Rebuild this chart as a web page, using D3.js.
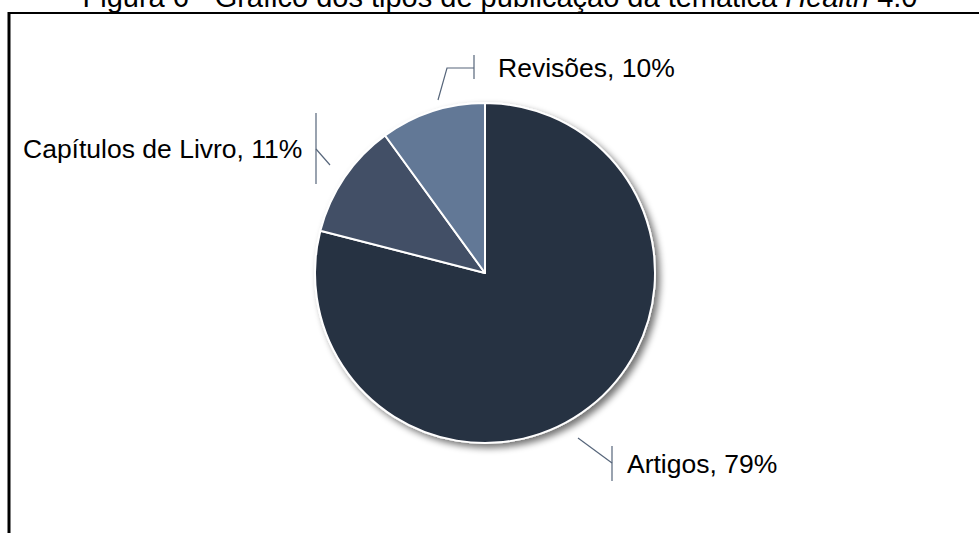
<!DOCTYPE html>
<html>
<head>
<meta charset="utf-8">
<script src="https://cdn.jsdelivr.net/npm/d3@7"></script>
<style>
  html, body { margin: 0; padding: 0; background: #fff; }
  svg { display: block; }
</style>
</head>
<body>
<svg id="chart" width="979" height="533"></svg>
<script>
// Publication types and their share (%)
const categories = ["Artigos", "Capítulos de Livro", "Revisões"];
const shares = [79, 11, 10];
const sliceColors = ["#273142", "#435066", "#627896"];

const titleParts = ["Figura 6 - Gráfico dos tipos de publicação da temática ", "Health", " 4.0"];

const W = 979, H = 533;
const cx = 485, cy = 273, R = 170;
const font = "'Liberation Sans', Arial, sans-serif";

const svg = d3.select("#chart");

// soft drop shadow under the pie
const defs = svg.append("defs");
const f = defs.append("filter").attr("id", "shadow")
  .attr("x", "-20%").attr("y", "-20%").attr("width", "140%").attr("height", "140%");
f.append("feGaussianBlur").attr("in", "SourceAlpha").attr("stdDeviation", 3.5).attr("result", "b");
f.append("feOffset").attr("in", "b").attr("dx", 4).attr("dy", 4).attr("result", "o");
f.append("feComponentTransfer").attr("in", "o").attr("result", "s")
  .append("feFuncA").attr("type", "linear").attr("slope", 0.55);
const m = f.append("feMerge");
m.append("feMergeNode").attr("in", "s");
m.append("feMergeNode").attr("in", "SourceGraphic");

// title (partly above the frame)
const title = svg.append("text")
  .attr("x", 500).attr("y", 7)
  .attr("text-anchor", "middle")
  .attr("font-family", font).attr("font-size", 29)
  .attr("fill", "#000");
titleParts.forEach((t, i) => {
  title.append("tspan").text(t).attr("font-style", i === 1 ? "italic" : "normal");
});

// frame lines
svg.append("line").attr("x1", 8).attr("x2", W).attr("y1", 13).attr("y2", 13)
  .attr("stroke", "#000").attr("stroke-width", 2);
svg.append("line").attr("x1", 9).attr("x2", 9).attr("y1", 12).attr("y2", H)
  .attr("stroke", "#000").attr("stroke-width", 3);

// pie
const pie = d3.pie().sort(null).value(d => d)(shares);
const arc = d3.arc().innerRadius(0).outerRadius(R);

const g = svg.append("g").attr("transform", `translate(${cx},${cy})`);
g.append("g").attr("filter", "url(#shadow)")
  .selectAll("path").data(pie).join("path")
  .attr("d", arc)
  .attr("fill", (d, i) => sliceColors[i])
  .attr("stroke", "#fff")
  .attr("stroke-width", 2)
  .attr("stroke-linejoin", "round");

// data labels with leader lines
const labels = [
  { text: `${categories[0]}, ${shares[0]}%`, x: 627, y: 473 },
  { text: `${categories[1]}, ${shares[1]}%`, x: 23, y: 158 },
  { text: `${categories[2]}, ${shares[2]}%`, x: 498, y: 77 }
];

const leaders = [
  // Artigos
  [[[578, 438], [612, 463]], [[612, 446], [612, 481]]],
  // Capítulos de Livro
  [[[330, 165], [316, 149]], [[316, 113], [316, 184]]],
  // Revisões
  [[[438, 100], [447, 68], [474, 68]], [[474, 55], [474, 79]]]
];

const line = d3.line();
leaders.forEach(segs => {
  segs.forEach(pts => {
    svg.append("path").attr("d", line(pts))
      .attr("fill", "none").attr("stroke", "#56657a").attr("stroke-width", 1.2);
  });
});

svg.selectAll("text.lbl").data(labels).join("text")
  .attr("class", "lbl")
  .attr("x", d => d.x).attr("y", d => d.y)
  .attr("font-family", font).attr("font-size", 26.5)
  .attr("fill", "#000")
  .text(d => d.text);
</script>
</body>
</html>
